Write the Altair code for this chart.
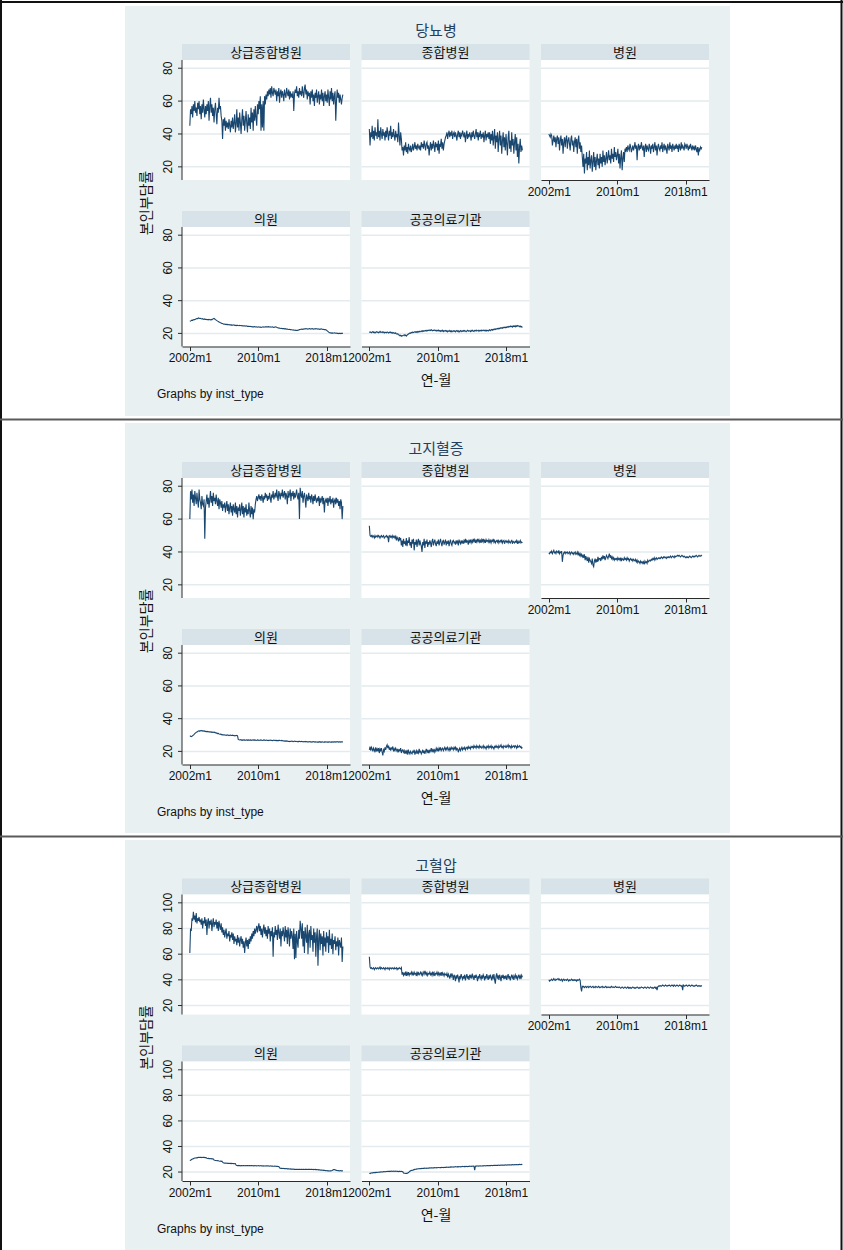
import altair as alt
import pandas as pd

# ---- categories, titles and tick labels ----
diseases = ["당뇨병", "고지혈증", "고혈압"]
inst_types = ["상급종합병원", "종합병원", "병원", "의원", "공공의료기관"]
x_tick_months = [0, 96, 192]          # months since 2002m1
x_tick_labels = ["2002m1", "2010m1", "2018m1"]
y_ticks = [[20, 40, 60, 80], [20, 40, 60, 80], [20, 40, 60, 80, 100]]
y_title = "본인부담률"
x_title = "연-월"
note_text = "Graphs by inst_type"

# ---- monthly series, 2002m1 .. 2019m12 (one row per year) ----
# 당뇨병
dm_tertiary = [
    45, 55, 52, 57, 50, 58, 54, 60, 53, 56, 51, 59,
    55, 60, 52, 57, 49, 58, 53, 61, 55, 50, 57, 52,
    58, 54, 60, 48, 57, 62, 53, 58, 51, 56, 47, 55,
    59, 52, 46, 56, 53, 62, 55, 57, 51, 48, 37, 49,
    45, 50, 42, 48, 44, 47, 43, 49, 45, 41, 48, 44,
    50, 43, 47, 52, 41, 46, 55, 44, 50, 42, 53, 47,
    40, 49, 55, 45, 51, 42, 48, 54, 46, 41, 52, 45,
    50, 43, 56, 47, 53, 42, 55, 48, 57, 50, 45, 58,
    52, 60, 55, 63, 42, 58, 44, 60, 42, 63, 58, 64,
    61, 66, 63, 67, 64, 68, 62, 69, 65, 63, 68, 66,
    64, 67, 60, 66, 63, 68, 59, 65, 67, 62, 66, 64,
    60, 67, 64, 62, 68, 65, 63, 67, 61, 66, 63, 64,
    62, 66, 54, 64, 67, 65, 69, 63, 66, 62, 68, 64,
    66, 63, 69, 65, 62, 68, 70, 64, 67, 61, 66, 63,
    65, 58, 66, 62, 67, 60, 64, 57, 65, 62, 67, 59,
    63, 66, 58, 64, 61, 67, 60, 65, 57, 63, 66, 60,
    64, 59, 67, 62, 57, 66, 61, 68, 60, 65, 58, 63,
    66, 48, 60, 67, 62, 65, 59, 64, 61, 58, 62, 64,
]
dm_general = [
    43, 33, 41, 38, 45, 37, 42, 36, 44, 39, 41, 37,
    49, 38, 42, 36, 44, 40, 37, 43, 39, 41, 36, 42,
    38, 44, 40, 36, 42, 39, 45, 37, 41, 38, 43, 39,
    36, 42, 38, 40, 35, 47, 39, 33, 41, 37, 30, 32,
    27, 33, 30, 35, 29, 32, 28, 34, 31, 30, 33, 29,
    31, 34, 30, 32, 35, 31, 33, 30, 34, 32, 31, 33,
    30, 35, 32, 34, 31, 36, 33, 30, 34, 35, 31, 33,
    27, 32, 35, 30, 34, 31, 36, 33, 29, 35, 32, 34,
    30, 36, 28, 34, 33, 37, 31, 35, 30, 34, 36, 38,
    39, 41, 37, 40, 42, 38, 41, 39, 42, 37, 40, 41,
    38, 41, 39, 36, 40, 42, 38, 41, 37, 40, 39, 42,
    40, 38, 41, 35, 39, 42, 37, 40, 38, 41, 39, 36,
    41, 38, 42, 39, 37, 40, 43, 38, 41, 36, 40, 39,
    42, 37, 40, 38, 41, 35, 39, 42, 36, 40, 38, 41,
    37, 41, 34, 40, 36, 42, 33, 38, 43, 31, 39, 35,
    41, 29, 37, 42, 33, 39, 28, 36, 41, 32, 38, 30,
    40, 34, 27, 38, 42, 31, 36, 29, 41, 33, 37, 28,
    35, 40, 30, 38, 26, 34, 22, 32, 37, 29, 33, 30,
]
dm_hospital = [
    40, 39, 38, 40, 39, 33, 36, 39, 35, 38, 32, 37,
    39, 34, 38, 30, 36, 39, 33, 37, 28, 35, 38, 32,
    37, 39, 31, 36, 38, 34, 30, 37, 39, 33, 36, 29,
    35, 38, 32, 37, 28, 36, 39, 31, 35, 29, 33, 26,
    20, 28, 16, 25, 22, 29, 18, 26, 21, 30, 19, 24,
    27, 17, 23, 29, 20, 26, 18, 24, 28, 21, 25, 19,
    28, 22, 26, 20, 30, 23, 27, 21, 25, 29, 22, 26,
    30, 24, 27, 22, 31, 25, 28, 23, 32, 26, 29, 24,
    27, 31, 22, 28, 19, 26, 30, 18, 25, 29, 23, 31,
    30, 32, 29, 33, 31, 30, 34, 32, 29, 31, 33, 30,
    32, 35, 31, 33, 24, 32, 34, 30, 33, 31, 35, 32,
    30, 33, 26, 32, 34, 29, 33, 31, 30, 34, 32, 28,
    33, 31, 34, 29, 32, 35, 30, 33, 27, 32, 34, 31,
    30, 33, 31, 35, 29, 32, 34, 30, 33, 31, 28, 34,
    32, 30, 35, 31, 33, 29, 34, 32, 30, 33, 31, 34,
    31, 33, 29, 34, 32, 30, 35, 31, 33, 32, 30, 34,
    33, 31, 34, 32, 30, 33, 31, 34, 32, 30, 33, 31,
    32, 30, 33, 31, 29, 32, 27, 31, 30, 32, 31, 32,
]
dm_clinic = [
    27.4, 27.6, 27.8, 28.1, 28.0, 28.3, 28.5, 28.4, 28.7, 28.9, 29.1, 29.0,
    29.5, 29.3, 29.1, 29.2, 28.9, 28.8, 29.0, 28.7, 28.6, 28.8, 28.5, 28.6,
    28.4, 28.5, 28.3, 28.6, 28.4, 28.2, 28.5, 28.3, 28.7, 29.0, 29.2, 28.8,
    28.4, 28.1, 27.8, 27.5, 27.3, 27.0, 26.8, 26.5, 26.3, 26.1, 26.0, 25.8,
    25.6, 25.7, 25.5, 25.6, 25.4, 25.5, 25.3, 25.4, 25.2, 25.3, 25.1, 25.2,
    25.0, 25.1, 25.2, 24.9, 25.0, 24.8, 24.9, 25.0, 24.8, 24.7, 24.9, 24.8,
    24.7, 24.8, 24.6, 24.7, 24.5, 24.6, 24.4, 24.6, 24.5, 24.3, 24.4, 24.3,
    24.2, 24.3, 24.1, 24.2, 24.0, 24.1, 24.0, 24.2, 24.0, 23.9, 24.0, 23.8,
    23.9, 24.0, 23.8, 23.9, 23.7, 23.8, 23.9, 24.0, 23.8, 23.9, 24.0, 24.1,
    24.0, 23.9, 24.1, 24.0, 23.9, 24.0, 23.8, 23.9, 24.0, 23.8, 23.7, 23.8,
    24.0, 23.9, 23.7, 23.5, 23.4, 23.2, 23.3, 23.1, 23.0, 23.1, 22.9, 23.0,
    22.9, 22.8, 22.9, 22.7, 22.6, 22.7, 22.5, 22.4, 22.5, 22.3, 22.4, 22.2,
    22.1, 22.2, 22.0, 21.9, 22.0, 21.8, 21.9, 21.8, 22.0, 22.1, 22.3, 22.4,
    22.5, 22.6, 22.4, 22.7, 22.6, 22.8, 22.7, 22.9, 22.8, 22.6, 22.8, 22.7,
    22.9, 22.8, 22.6, 22.8, 22.9, 22.7, 22.6, 22.8, 22.7, 22.9, 22.8, 22.6,
    22.8, 22.7, 22.5, 22.7, 22.6, 22.8, 22.6, 22.4, 22.5, 22.3, 22.4, 22.2,
    22.0, 21.6, 21.2, 20.8, 20.5, 20.3, 20.4, 20.2, 20.3, 20.1, 20.2, 20.4,
    20.3, 20.1, 20.2, 20.0, 20.1, 19.9, 20.0, 20.1, 19.9, 20.0, 20.1, 20.0,
]
dm_public = [
    21.0, 20.6, 20.9, 20.4, 20.8, 21.1, 20.5, 20.7, 20.3, 20.8, 21.0, 20.6,
    20.9, 20.4, 20.7, 21.2, 20.6, 20.8, 20.5, 21.0, 20.7, 20.3, 20.8, 20.6,
    20.4, 20.9, 20.6, 20.2, 20.7, 20.5, 20.8, 20.3, 20.6, 20.1, 20.4, 20.2,
    19.9, 20.3, 19.7, 19.5, 19.8, 19.2, 19.0, 18.6, 18.9, 18.3, 18.7, 18.5,
    18.8, 19.2, 18.6, 19.0, 18.4, 18.9, 19.3, 19.6, 19.9, 20.3, 20.1, 20.6,
    20.4, 20.9, 20.5, 20.8, 21.1, 20.7, 21.0, 20.6, 21.2, 20.9, 21.3, 21.0,
    21.2, 21.5, 21.1, 21.6, 21.3, 21.7, 21.4, 21.8, 21.5, 21.9, 21.6, 22.0,
    21.7, 22.1, 21.8, 22.2, 21.9, 21.6, 22.0, 21.7, 22.1, 21.8, 21.5, 21.9,
    21.6, 22.0, 21.4, 21.8, 21.2, 21.7, 21.3, 21.9, 21.1, 21.6, 21.4, 21.8,
    21.2, 21.7, 21.0, 21.5, 21.3, 21.8, 21.1, 21.6, 20.9, 21.4, 21.7, 21.2,
    21.6, 21.0, 21.5, 21.8, 21.2, 21.6, 20.8, 21.4, 21.7, 21.1, 21.5, 21.3,
    21.7, 21.2, 21.8, 21.4, 21.0, 21.6, 21.9, 21.3, 21.7, 21.5, 21.1, 21.8,
    21.4, 21.9, 21.5, 21.2, 21.8, 21.6, 22.0, 21.4, 21.7, 21.9, 21.3, 21.8,
    21.6, 22.0, 21.5, 21.9, 21.7, 22.1, 21.6, 21.9, 21.4, 22.0, 21.8, 21.5,
    21.9, 22.2, 21.7, 22.1, 22.4, 22.0, 22.5, 22.2, 22.7, 22.4, 22.9, 22.6,
    23.0, 22.7, 23.2, 22.9, 23.4, 23.1, 23.5, 23.2, 23.7, 23.4, 23.8, 23.5,
    23.9, 23.6, 24.1, 23.8, 24.3, 24.0, 24.5, 24.1, 24.4, 23.9, 24.6, 24.2,
    24.5, 24.0, 24.7, 24.3, 24.8, 24.4, 24.6, 24.1, 24.5, 23.9, 24.2, 23.6,
]

# 고지혈증
hl_tertiary = [
    60, 77, 72, 78, 70, 75, 68, 77, 73, 69, 76, 71,
    67, 78, 72, 70, 66, 74, 69, 68, 72, 48, 67, 71,
    75, 69, 73, 67, 72, 77, 70, 74, 68, 76, 71, 73,
    69, 75, 71, 68, 73, 66, 72, 70, 67, 71, 65, 69,
    67, 70, 64, 68, 71, 65, 69, 63, 67, 70, 64, 68,
    62, 69, 66, 64, 70, 63, 68, 61, 67, 65, 69, 62,
    66, 70, 63, 68, 61, 67, 64, 69, 62, 66, 63, 70,
    65, 61, 68, 63, 67, 60, 66, 64, 69, 72, 74, 71,
    73, 75, 72, 74, 71, 75, 73, 70, 74, 72, 76, 73,
    75, 71, 74, 72, 76, 73, 70, 75, 73, 77, 72, 74,
    76, 73, 78, 74, 71, 77, 75, 72, 76, 74, 78, 73,
    75, 77, 72, 76, 74, 69, 77, 73, 75, 78, 71, 76,
    74, 77, 72, 76, 73, 75, 78, 74, 72, 76, 60, 79,
    75, 73, 77, 70, 74, 76, 72, 67, 75, 73, 71, 76,
    72, 74, 70, 75, 73, 69, 74, 71, 75, 72, 70, 73,
    71, 74, 68, 73, 70, 72, 74, 69, 73, 64, 71, 72,
    70, 73, 68, 72, 71, 74, 69, 72, 70, 73, 67, 71,
    72, 69, 73, 70, 72, 68, 71, 66, 72, 70, 60, 68,
]
hl_general = [
    56, 50, 49.5, 50, 49, 50, 49.5, 48.5, 50, 49, 49.5, 50,
    49, 50, 49.5, 48.5, 49.5, 50, 49, 49.5, 50, 48.5, 49, 49.5,
    50, 49, 49.5, 46, 49.5, 50, 49, 49.5, 48.5, 50, 49, 49.5,
    48.5, 49.5, 47, 49, 48, 46.5, 49, 47.5, 48.5, 44, 47, 43,
    48, 45, 46.5, 44, 48.5, 43.5, 47, 45.5, 49, 44, 46, 42.5,
    47.5, 45, 48, 41, 46, 44.5, 47.5, 43, 46.5, 48, 44, 47,
    45, 43.5, 40, 46, 44, 48, 42.5, 46.5, 45, 47.5, 43, 46,
    44.5, 47, 45.5, 43, 46.5, 48, 44, 46, 47.5, 45, 43.5, 46.5,
    45, 47.5, 44, 46, 48, 45.5, 43.5, 46.5, 47, 44.5, 46, 47.5,
    44, 46.5, 45, 47, 43.5, 46, 47.5, 45, 44, 46.5, 47, 45.5,
    46, 44.5, 47, 45.5, 46.5, 44, 47.5, 46, 45, 47, 45.5, 46.5,
    45, 47, 46, 48, 45.5, 47, 46.5, 44.5, 47.5, 46, 47, 45.5,
    47, 46, 48, 46.5, 47.5, 45.5, 47, 46, 48, 46.5, 47.5, 46,
    47, 45.5, 47.5, 46.5, 48, 46, 47, 45.5, 47.5, 46.5, 47, 46,
    47.5, 46, 47, 45.5, 47, 46.5, 48, 46, 47, 45.5, 46.5, 47,
    46, 47.5, 45.5, 46.5, 47, 46, 47.5, 45.5, 46.5, 47, 45, 46.5,
    47, 46, 46.5, 45.5, 47, 46, 45.5, 46.5, 47, 45, 46.5, 46,
    45.5, 46.5, 46, 47, 45, 46.5, 45.5, 46, 47, 45.5, 46, 45.5,
]
hl_hospital = [
    39.5, 39, 40, 39.5, 40.5, 39, 40, 41, 39.5, 40, 39, 40.5,
    40, 39.5, 41, 39, 40, 39.5, 40.5, 34, 38, 39.5, 40, 39,
    40, 39.5, 40, 39, 39.5, 40, 38.5, 39.5, 40, 39, 39.5, 38.5,
    39.5, 40, 38.5, 39, 40, 38, 39.5, 38, 39, 37.5, 38.5, 37,
    38, 36.5, 38.5, 35, 37.5, 36, 34.5, 37, 33.5, 36, 35, 34,
    33, 36, 32, 31, 34.5, 36, 33.5, 35.5, 34, 37, 35, 36,
    36, 34.5, 37, 35.5, 38, 36, 37.5, 35, 36.5, 38, 37, 36,
    37.5, 39, 36.5, 38, 36, 37, 35.5, 36.5, 35, 36, 35.5, 36,
    35, 36.5, 35.5, 36, 35, 36.5, 34.5, 36, 35.5, 35, 36.5, 35.5,
    36, 35, 36.5, 35.5, 36, 34.5, 35.5, 36, 35, 35.5, 34.5, 35.5,
    35, 34.5, 35.5, 34, 35, 33.5, 34.5, 34, 33, 34.5, 33.5, 34,
    33, 34, 32.5, 34.5, 33.5, 34, 33, 35, 34, 34.5, 35, 34.5,
    35.5, 35, 36, 35.5, 36.5, 35, 36, 36.5, 35.5, 36, 36.5, 36,
    36.5, 36, 37, 36.5, 36, 37, 36.5, 37, 36.5, 36, 37, 36.5,
    37, 36.5, 37, 37.5, 36.5, 37, 37.5, 37, 36.5, 37.5, 37, 37.5,
    37.5, 38, 37.5, 38, 37.5, 37, 37.5, 38, 37.5, 37, 37.5, 37,
    36.5, 37, 36.5, 37, 36.5, 37, 37.5, 37, 36.5, 37, 37.5, 37,
    37.5, 37, 37.5, 38, 37.5, 37, 37.5, 38, 37.5, 37.5, 38, 37.5,
]
hl_clinic = [
    29.5, 29.3, 29.0, 29.2, 29.6, 30.0, 30.4, 30.9, 31.3, 31.6, 31.9, 32.2,
    32.4, 32.6, 32.3, 32.7, 32.5, 32.8, 32.4, 32.6, 32.3, 32.5, 32.1, 32.3,
    32.0, 32.2, 31.9, 32.1, 31.8, 32.0, 31.7, 31.9, 31.6, 31.8, 31.5, 31.7,
    31.4, 31.1, 31.3, 30.9, 31.0, 30.7, 30.5, 30.6, 30.3, 30.4, 30.1, 30.2,
    30.0, 30.1, 29.9, 30.0, 29.8, 30.1, 29.9, 29.7, 29.9, 30.0, 29.8, 29.7,
    29.9, 29.6, 29.8, 29.5, 29.7, 29.6, 29.8, 29.5, 27.3, 27.1, 27.0, 27.2,
    26.9, 27.0, 26.8, 27.1, 26.9, 27.0, 26.8, 26.9, 27.1, 26.8, 27.0, 26.9,
    26.8, 27.0, 26.9, 26.7, 26.9, 27.1, 26.8, 27.0, 26.9, 26.7, 26.8, 27.0,
    26.9, 26.7, 26.8, 27.0, 26.8, 26.9, 26.7, 26.8, 27.0, 26.9, 26.7, 26.8,
    26.9, 26.7, 26.8, 26.6, 26.8, 26.9, 26.7, 26.8, 26.6, 26.7, 26.9, 26.7,
    26.8, 26.6, 26.7, 26.5, 26.7, 26.6, 26.8, 26.6, 26.5, 26.7, 26.6, 26.4,
    26.5, 26.3, 26.4, 26.2, 26.4, 26.3, 26.1, 26.2, 26.0, 26.2, 26.1, 26.3,
    26.2, 26.0, 26.1, 26.3, 26.1, 26.2, 26.0, 25.9, 26.1, 26.0, 26.2, 26.1,
    25.9, 26.1, 26.0, 25.8, 26.0, 25.9, 26.1, 25.8, 26.0, 25.9, 25.7, 25.9,
    26.0, 25.8, 25.9, 25.7, 25.9, 25.8, 26.0, 25.8, 25.7, 25.9, 25.8, 25.6,
    25.8, 25.7, 25.9, 25.6, 25.8, 25.7, 25.9, 25.7, 25.6, 25.8, 25.7, 25.9,
    25.8, 25.6, 25.8, 25.7, 25.9, 25.8, 25.6, 25.8, 25.7, 25.9, 25.7, 25.8,
    25.9, 25.7, 25.8, 26.0, 25.8, 25.7, 25.9, 25.8, 25.7, 25.9, 25.8, 25.8,
]
hl_public = [
    21.0, 23.0, 20.5, 22.5, 21.5, 20.0, 22.0, 21.0, 19.5, 22.5, 20.5, 21.5,
    20.0, 22.0, 19.0, 21.5, 20.5, 22.0, 19.5, 17.5, 21.0, 20.0, 22.5, 21.0,
    23.0, 24.0, 22.0, 23.5, 21.0, 22.5, 20.5, 22.0, 21.5, 23.0, 20.0, 21.5,
    20.5, 22.0, 21.0, 20.0, 21.5, 19.5, 21.0, 20.5, 22.0, 19.0, 20.5, 21.0,
    19.5, 20.5, 18.5, 20.0, 19.0, 21.0, 18.0, 20.5, 19.5, 18.5, 20.0, 19.0,
    18.5, 20.0, 19.5, 21.0, 18.0, 19.5, 20.5, 18.5, 20.0, 19.0, 21.5, 19.5,
    20.0, 18.5, 19.5, 21.0, 19.0, 20.5, 18.5, 20.0, 21.5, 19.5, 20.5, 19.0,
    21.0, 19.5, 20.5, 22.0, 19.5, 21.0, 20.0, 21.5, 19.5, 20.5, 22.0, 20.5,
    21.5, 20.0, 22.0, 21.0, 22.5, 20.5, 21.5, 22.0, 20.5, 21.5, 22.5, 21.0,
    22.0, 21.0, 22.5, 21.5, 20.5, 22.0, 21.0, 22.5, 21.5, 22.0, 21.0, 22.5,
    21.5, 22.5, 20.5, 22.0, 21.5, 19.5, 21.0, 22.0, 20.5, 21.5, 22.5, 21.0,
    22.0, 21.5, 22.5, 21.0, 22.0, 22.5, 21.5, 23.0, 22.0, 22.5, 21.5, 23.0,
    22.5, 23.0, 22.0, 23.5, 22.5, 23.0, 22.0, 23.5, 22.5, 23.0, 22.0, 23.5,
    22.5, 23.0, 22.0, 22.5, 23.5, 22.0, 23.0, 22.5, 21.5, 23.0, 22.5, 23.5,
    22.0, 23.0, 22.5, 23.5, 22.0, 23.0, 22.5, 21.5, 23.0, 22.5, 23.5, 22.5,
    23.0, 22.0, 23.5, 22.5, 23.0, 24.0, 22.5, 23.0, 22.0, 23.5, 23.0, 22.5,
    23.5, 22.5, 23.0, 24.0, 22.5, 23.5, 23.0, 22.0, 23.5, 22.5, 23.0, 23.5,
    22.5, 23.5, 23.0, 22.0, 23.5, 22.5, 23.0, 23.5, 22.5, 23.0, 22.0, 22.5,
]

# 고혈압
hp_tertiary = [
    61, 80, 78, 88, 86, 93, 87, 90, 85, 92, 84, 88,
    86, 89, 85, 87, 83, 88, 80, 86, 84, 89, 82, 87,
    75, 85, 88, 80, 86, 83, 87, 78, 84, 88, 81, 85,
    83, 87, 80, 85, 78, 86, 82, 79, 84, 77, 81, 75,
    79, 73, 77, 80, 72, 76, 74, 78, 70, 75, 73, 77,
    71, 76, 68, 74, 70, 72, 67, 75, 69, 73, 66, 71,
    74, 68, 72, 65, 70, 61, 69, 73, 66, 71, 64, 72,
    68, 74, 70, 76, 72, 78, 74, 80, 76, 79, 82, 77,
    81, 84, 78, 82, 75, 80, 73, 79, 83, 76, 81, 74,
    79, 72, 82, 76, 80, 70, 78, 74, 81, 58, 77, 73,
    82, 75, 79, 71, 83, 77, 72, 80, 66, 78, 74, 81,
    76, 70, 82, 73, 79, 68, 81, 75, 66, 80, 72, 78,
    74, 64, 80, 56, 76, 57, 78, 70, 65, 79, 72, 86,
    80, 72, 84, 66, 78, 61, 81, 74, 69, 83, 60, 76,
    79, 65, 82, 71, 75, 62, 80, 69, 77, 58, 74, 80,
    51, 72, 79, 63, 76, 68, 74, 59, 78, 66, 73, 62,
    77, 69, 74, 61, 79, 67, 72, 64, 76, 60, 71, 68,
    74, 63, 70, 66, 73, 59, 71, 68, 65, 73, 54, 66,
]
hp_general = [
    58, 50, 49, 49.5, 48.5, 49, 49.5, 48, 49, 49.5, 48.5, 49,
    49.5, 48.5, 49, 50, 48.5, 49.5, 49, 48.5, 49.5, 49, 48, 49.5,
    49, 48.5, 49.5, 49, 48, 49.5, 49, 48.5, 49.5, 49, 48.5, 49.5,
    48.5, 49, 49.5, 48, 49, 48.5, 49.5, 49, 48.5, 49.5, 44, 46,
    43.5, 45, 44, 46.5, 43, 45.5, 44, 46, 43.5, 45, 44.5, 46,
    44, 45.5, 43.5, 46, 44.5, 45, 43, 46.5, 44, 45.5, 44, 45,
    46, 44, 45.5, 43.5, 45, 47, 44.5, 46, 44, 45.5, 43.5, 45,
    44.5, 46, 44, 45, 43.5, 46.5, 44, 45.5, 43, 45, 44.5, 46,
    44, 45.5, 43.5, 45, 44, 46, 43, 45.5, 44.5, 43, 45, 44,
    43.5, 45, 42, 44.5, 43, 41, 44, 42.5, 45, 43, 40, 44,
    42.5, 39, 43.5, 41, 44, 42, 38, 43, 41.5, 44.5, 42, 40.5,
    43, 41, 44, 39.5, 42.5, 44.5, 41, 43, 40, 44, 42, 43.5,
    41, 44, 42.5, 40, 43.5, 41.5, 44, 42, 39, 43, 41, 44.5,
    42, 40.5, 43.5, 41, 44, 42.5, 39.5, 43, 41, 44.5, 42, 40,
    43.5, 41, 44, 42, 39.5, 43, 41.5, 44.5, 40, 37, 43, 45,
    41, 43.5, 40, 44, 42, 39, 43.5, 41.5, 44, 40.5, 43, 41,
    43.5, 40, 42.5, 44.5, 41, 43, 39.5, 42, 44, 41.5, 43, 40,
    42.5, 44, 41, 43.5, 40.5, 42, 44, 41.5, 43, 40.5, 43.5, 42,
]
hp_hospital = [
    40, 39, 39.5, 40, 40.5, 39.5, 40, 41, 40, 39.5, 40.5, 40,
    40.5, 41, 40, 40.5, 39.5, 40, 40.5, 39, 40, 40.5, 39.5, 40,
    40, 39.5, 40.5, 40, 39, 40, 39.5, 40, 40.5, 39.5, 40, 39.5,
    40, 39.5, 40, 39, 40, 39.5, 40, 40.5, 39.5, 34, 31, 35,
    34.5, 35, 34, 34.5, 35, 34, 34.5, 35, 34, 34.5, 35, 34.5,
    34, 34.5, 35, 34, 34.5, 34, 35, 34.5, 34, 34.5, 35, 34,
    34.5, 34, 34.5, 35, 34, 34.5, 34, 34.5, 35, 34, 34.5, 34,
    34.5, 34, 34.5, 34, 35, 34.5, 34, 34.5, 34, 34.5, 35, 34,
    34, 34.5, 34, 34.5, 34, 33.5, 34, 34.5, 34, 33.5, 34, 34.5,
    34, 33.5, 34, 34.5, 33.5, 34, 33.5, 34, 33.5, 34, 34.5, 34,
    33.5, 34, 33.5, 34, 34.5, 34, 33.5, 34, 33.5, 34, 34.5, 34,
    34, 33.5, 34, 34.5, 34, 33.5, 34, 34.5, 34, 33.5, 34, 34.5,
    34, 33.5, 34, 33.5, 34, 34.5, 33.5, 34, 32, 34.5, 35, 35.5,
    35, 35.5, 35, 35.5, 36, 35.5, 35, 35.5, 36, 35.5, 35, 35.5,
    35.5, 36, 35.5, 35, 35.5, 36, 35.5, 35, 36, 35.5, 35, 35.5,
    36, 35.5, 35, 35.5, 36, 35.5, 35, 35.5, 32, 36, 35.5, 35,
    35.5, 36, 35.5, 35, 35.5, 36, 35.5, 35, 35.5, 36, 35.5, 35,
    35.5, 35, 35.5, 36, 35.5, 35, 35.5, 35, 35.5, 35, 35.5, 35,
]
hp_clinic = [
    29.0, 29.3, 29.6, 30.0, 30.3, 30.5, 30.8, 31.0, 31.0, 31.2, 31.1, 31.3,
    31.5, 31.4, 31.6, 31.5, 31.3, 31.5, 31.4, 31.6, 31.5, 31.3, 31.4, 31.2,
    30.8, 30.6, 30.7, 30.5, 30.6, 30.4, 30.5, 30.3, 30.4, 30.2, 29.4, 29.2,
    29.1, 29.0, 28.9, 29.0, 28.8, 28.6, 28.5, 28.6, 28.4, 28.5, 27.8, 27.3,
    27.1, 27.0, 27.1, 26.9, 27.0, 26.8, 26.9, 26.7, 26.9, 26.8, 26.6, 26.8,
    26.7, 26.6, 26.7, 26.5, 26.6, 25.4, 25.1, 25.0, 25.2, 25.0, 25.1, 24.9,
    25.1, 25.0, 24.9, 25.0, 25.1, 24.9, 25.0, 24.9, 25.0, 25.1, 24.9, 25.0,
    25.0, 24.9, 25.1, 25.0, 24.9, 25.0, 24.8, 25.0, 24.9, 25.0, 24.8, 24.9,
    24.9, 25.0, 24.8, 24.9, 25.0, 24.8, 24.9, 24.7, 24.9, 24.8, 24.7, 24.8,
    24.8, 24.9, 24.7, 24.8, 24.6, 24.7, 24.8, 24.6, 24.7, 24.5, 24.6, 24.7,
    24.5, 24.6, 24.4, 24.5, 24.4, 24.3, 23.3, 23.0, 22.9, 23.0, 22.8, 22.9,
    22.8, 22.7, 22.8, 22.6, 22.7, 22.5, 22.6, 22.5, 22.4, 22.5, 22.3, 22.4,
    22.3, 22.2, 22.3, 22.1, 22.2, 22.0, 22.1, 22.2, 22.0, 22.1, 22.2, 22.0,
    22.1, 22.2, 22.0, 22.1, 22.2, 22.0, 22.1, 22.2, 22.1, 22.0, 22.2, 22.1,
    22.2, 22.0, 22.1, 22.2, 22.0, 22.1, 21.9, 22.0, 22.1, 21.9, 22.0, 21.8,
    21.9, 21.7, 21.8, 21.6, 21.5, 21.6, 21.4, 21.5, 21.3, 21.4, 21.2, 21.1,
    21.0, 21.1, 20.9, 21.0, 20.8, 21.0, 20.9, 21.0, 21.2, 21.6, 21.9, 22.0,
    21.8, 21.5, 21.3, 21.2, 21.0, 21.1, 20.9, 21.0, 21.1, 20.9, 21.0, 20.9,
]
hp_public = [
    19.0, 18.8, 19.2, 19.3, 19.5, 19.4, 19.6, 19.5, 19.7, 19.6, 19.8, 19.7,
    19.8, 19.9, 20.0, 19.9, 20.1, 20.0, 20.2, 20.1, 20.3, 20.2, 20.4, 20.3,
    20.4, 20.5, 20.4, 20.6, 20.5, 20.6, 20.5, 20.7, 20.6, 20.5, 20.7, 20.6,
    20.5, 20.7, 20.6, 20.5, 20.6, 20.4, 20.6, 20.5, 20.4, 20.6, 20.5, 20.3,
    19.3, 19.1, 19.0, 18.9, 19.1, 19.0, 19.2, 19.6, 20.1, 20.6, 21.0, 21.3,
    21.2, 21.5, 21.7, 21.9, 22.1, 22.2, 22.3, 22.5, 22.4, 22.6, 22.7, 22.6,
    22.8, 22.7, 22.9, 22.8, 23.0, 22.9, 23.1, 23.0, 22.9, 23.1, 23.0, 23.2,
    23.1, 23.3, 23.2, 23.4, 23.3, 23.2, 23.4, 23.3, 23.5, 23.4, 23.3, 23.5,
    23.4, 23.6, 23.5, 23.4, 23.6, 23.5, 23.7, 23.6, 23.5, 23.7, 23.6, 23.8,
    23.7, 23.9, 23.8, 23.7, 23.9, 23.8, 24.0, 23.9, 24.1, 24.0, 23.9, 24.1,
    24.0, 24.2, 24.1, 24.0, 24.2, 24.1, 24.3, 24.2, 24.1, 24.3, 24.2, 24.4,
    24.3, 24.2, 24.4, 24.3, 24.5, 24.4, 24.3, 24.5, 24.4, 24.6, 24.5, 24.4,
    24.6, 24.5, 24.7, 24.6, 21.5, 24.7, 24.6, 24.8, 24.7, 24.6, 24.8, 24.7,
    24.9, 24.8, 24.7, 24.9, 24.8, 25.0, 24.9, 24.8, 25.0, 24.9, 25.1, 25.0,
    24.9, 25.1, 25.0, 25.2, 25.1, 25.0, 25.2, 25.1, 25.3, 25.2, 25.1, 25.3,
    25.2, 25.4, 25.3, 25.2, 25.4, 25.3, 25.5, 25.4, 25.3, 25.5, 25.4, 25.6,
    25.5, 25.4, 25.6, 25.5, 25.7, 25.6, 25.5, 25.7, 25.6, 25.8, 25.7, 25.6,
    25.8, 25.7, 25.9, 25.8, 25.7, 25.9, 25.8, 26.0, 25.9, 25.8, 26.0, 25.9,
]

series = [
    [dm_tertiary, dm_general, dm_hospital, dm_clinic, dm_public],
    [hl_tertiary, hl_general, hl_hospital, hl_clinic, hl_public],
    [hp_tertiary, hp_general, hp_hospital, hp_clinic, hp_public],
]

# ---- page layout (pixels) ----
W, H = 843, 1250
KFONT = "Noto Sans CJK KR"
LFONT = "Liberation Sans"
NAVY = "#1A476F"
GRAPH_BG = "#E9F0F2"
STRIP_BG = "#D7E3E9"
GRID_C = "#E3EBEE"
AXIS_C = "#2B2B2B"
TITLE_C = "#24405F"

GRAPH_X = (125, 730)
GRAPH_TOP = [6, 423, 840]
GRAPH_BOTTOM = [416, 833, 1250]
BLOCK_DY = [0, 418, 834.5]
PANEL_X0 = [182, 361.5, 541]
PANEL_W = 168
STRIP_TOP = [44, 211]
STRIP_H = 16
PLOT_BOTTOM = [180, 346.5]
X_DOMAIN = [-11, 225]
Y_DOMAINS = [[12, 85], [12, 85], [13, 106.5]]
GRID_POS = [(0, 0), (0, 1), (0, 2), (1, 0), (1, 1)]
X_AXIS_PANELS = {2, 3, 4}

one_row = pd.DataFrame({"k": [0]})

x_label_expr = " : ".join(
    f"datum.value == {m} ? '{lab}'" for m, lab in zip(x_tick_months[:-1], x_tick_labels[:-1])
) + f" : '{x_tick_labels[-1]}'"


def deco_rect(x0, x1, y0, y1, color):
    return alt.Chart(one_row).mark_rect(color=color).encode(
        x=alt.value(x0), x2=alt.value(x1), y=alt.value(y0), y2=alt.value(y1)
    )


def deco_rule(x0, x1, y0, y1, color, width):
    return alt.Chart(one_row).mark_rule(color=color, strokeWidth=width).encode(
        x=alt.value(x0), x2=alt.value(x1), y=alt.value(y0), y2=alt.value(y1)
    )


def deco_text(x, y, text, font, size, color, angle=0, align="center"):
    return alt.Chart(one_row).mark_text(
        font=font, fontSize=size, color=color, angle=angle, align=align, baseline="middle"
    ).encode(x=alt.value(x), y=alt.value(y), text=alt.value(text))


def panel(b, p, values):
    row, col = GRID_POS[p]
    dy = BLOCK_DY[b]
    x0 = PANEL_X0[col]
    x1 = x0 + PANEL_W
    s_top = STRIP_TOP[row] + dy
    p_top = s_top + STRIP_H
    p_bot = PLOT_BOTTOM[row] + dy
    xs = alt.Scale(domain=X_DOMAIN, range=[x0, x1], nice=False, zero=False)
    ys = alt.Scale(domain=Y_DOMAINS[b], range=[p_bot, p_top], nice=False, zero=False)
    tick_df = pd.DataFrame({"tick": y_ticks[b], "label": [str(t) for t in y_ticks[b]]})

    parts = [
        deco_rect(x0, x1, s_top, p_top, STRIP_BG),
        deco_text((x0 + x1) / 2, s_top + STRIP_H / 2 + 0.5, inst_types[p], KFONT, 13, "#111111"),
        deco_rect(x0, x1, p_top, p_bot, "white"),
        alt.Chart(tick_df).mark_rule(color=GRID_C, strokeWidth=1.5).encode(
            y=alt.Y("tick:Q", scale=ys, axis=None), x=alt.value(x0), x2=alt.value(x1)
        ),
    ]

    # vertical axis on the left-hand column: line, outward ticks, rotated labels
    if col == 0:
        parts.append(deco_rule(x0, x0, p_top, p_bot, AXIS_C, 1))
        parts.append(
            alt.Chart(tick_df).mark_rule(color=AXIS_C, strokeWidth=1).encode(
                y=alt.Y("tick:Q", scale=ys, axis=None), x=alt.value(x0 - 4), x2=alt.value(x0)
            )
        )
        parts.append(
            alt.Chart(tick_df).mark_text(
                font=LFONT, fontSize=12, angle=270, align="center", baseline="middle",
                color="#111111",
            ).encode(
                y=alt.Y("tick:Q", scale=ys, axis=None), x=alt.value(x0 - 14.5), text="label:N"
            )
        )

    if p in X_AXIS_PANELS:
        x_axis = alt.Axis(
            orient="bottom", offset=p_bot - H, values=x_tick_months, labelExpr=x_label_expr,
            grid=False, title=None, tickSize=4, tickColor=AXIS_C, domainColor=AXIS_C,
            labelColor="#111111", labelFont=LFONT, labelFontSize=12, labelPadding=2,
            labelFlush=False, labelOverlap=False, zindex=1,
        )
    else:
        x_axis = None

    df = pd.DataFrame({"month": list(range(len(values))), "rate": values})
    parts.append(
        alt.Chart(df).mark_line(color=NAVY, strokeWidth=1.1).encode(
            x=alt.X("month:Q", scale=xs, axis=x_axis),
            y=alt.Y("rate:Q", scale=ys, axis=None),
        )
    )
    return alt.layer(*parts)


layers = []
# page table borders
layers.append(deco_rule(0, W, 2, 2, "#111111", 2))
layers.append(deco_rule(1, 1, 0, H, "#111111", 2))
layers.append(deco_rule(W - 1.5, W - 1.5, 0, H, "#111111", 2))
layers.append(deco_rule(0, W, 419.5, 419.5, "#5A5A5A", 2))
layers.append(deco_rule(0, W, 836.5, 836.5, "#5A5A5A", 2))

for b, disease in enumerate(diseases):
    dy = BLOCK_DY[b]
    layers.append(deco_rect(GRAPH_X[0], GRAPH_X[1], GRAPH_TOP[b], GRAPH_BOTTOM[b], GRAPH_BG))
    layers.append(deco_text(436, 31 + dy, disease, KFONT, 15, TITLE_C))
    layers.append(deco_text(436, 381 + dy, x_title, KFONT, 14, "#111111"))
    layers.append(deco_text(147, 203 + dy, y_title, KFONT, 14, "#111111", angle=270))
    layers.append(deco_text(157, 394 + dy, note_text, LFONT, 12, "#111111", align="left"))

for b in range(len(diseases)):
    for p in range(len(inst_types)):
        layers.append(panel(b, p, series[b][p]))

chart = (
    alt.layer(*layers)
    .resolve_scale(x="independent", y="independent")
    .resolve_axis(x="independent", y="independent")
    .properties(
        width=W, height=H, padding=0, background="white",
        autosize=alt.AutoSizeParams(type="none"),
    )
    .configure_view(strokeWidth=0)
)

chart.save("out.html", embed_options={"renderer": "svg", "actions": False})
